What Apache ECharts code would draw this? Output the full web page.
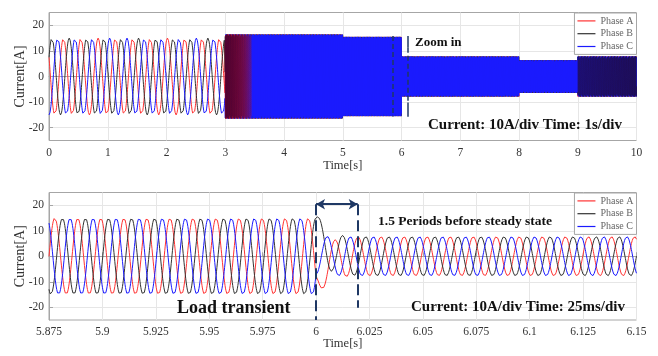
<!DOCTYPE html>
<html>
<head>
<meta charset="utf-8">
<script src="https://cdn.jsdelivr.net/npm/echarts@6/dist/echarts.min.js"></script>
<style>
  html, body { margin: 0; padding: 0; background: #fff; }
  #chart { width: 658px; height: 356px; }
</style>
</head>
<body>
<div id="chart"></div>
<script>
// three phases, B and C lag A by 120 / 240 degrees
let phaseNames = ['Phase A', 'Phase B', 'Phase C'];
let phaseColors = ['#ff3333', '#333333', '#1a1aff'];
let phaseLag = [0, 120, 240];

// top plot, 0 - 10 s
let slowEnd = 3;          // 0-3 s the trace is still readable (aliased view)
let slowAmp = 15;
let slowFreq = 3.389;     // visible cycles per second before 3 s
let slowPeakA = -0.0492;
let blockTimes = [3, 5, 6, 8, 9, 10];      // steps of the solid band
let blockAmps = [16.4, 15.5, 7.8, 6.4, 7.8];
let gridFreq = 92.7;      // Hz

// parts of the band where red / black still show through the blue
let hazeWindow = [3, 3.45];
let darkWindow = [9, 10];

// bottom plot, zoom around the load step
let zoomRange = [5.875, 6.15];
let preAmp = 15;
let prePeakA = 5.8777;
let stepTime = 6.0;
let postAmp = 7.7;
let postPeakA = 6.1491;
let decayTau = 0.004;

let yTicks = [-20, -10, 0, 10, 20];

function phaseVal(amp, f, t, t0, k) {
  return amp * Math.cos(2 * Math.PI * f * (t - t0) - phaseLag[k] * Math.PI / 180);
}

function topData(k) {
  let pts = [];
  for (let t = 0; t < slowEnd; t += 0.004) {
    pts.push([t, phaseVal(slowAmp, slowFreq, t, slowPeakA, k)]);
  }
  for (let i = 0; i < blockAmps.length; i++) {
    for (let t = blockTimes[i]; t < blockTimes[i + 1]; t += 0.001) {
      pts.push([t, phaseVal(blockAmps[i], gridFreq, t, 0, k)]);
    }
  }
  return pts;
}

function zoomData(k) {
  let pts = [];
  let jump = phaseVal(preAmp, gridFreq, stepTime, prePeakA, k) - phaseVal(postAmp, gridFreq, stepTime, postPeakA, k);
  for (let t = zoomRange[0]; t <= zoomRange[1] + 1e-9; t += 0.0002) {
    let v = t < stepTime
      ? phaseVal(preAmp, gridFreq, t, prePeakA, k)
      : phaseVal(postAmp, gridFreq, t, postPeakA, k) + jump * Math.exp(-(t - stepTime) / decayTau);
    pts.push([t, v]);
  }
  return pts;
}

let serif = 'Liberation Serif';
let navy = '#1f3864';

function xAxisOf(idx, min, max, interval) {
  return {
    gridIndex: idx, type: 'value', min: min, max: max, interval: interval,
    name: 'Time[s]', nameLocation: 'middle', nameGap: idx === 0 ? 19 : 17, nameMoveOverlap: false,
    nameTextStyle: { fontFamily: serif, fontSize: 12.5, color: '#333' },
    axisLine: { lineStyle: { color: '#a6a6a6' } },
    axisTick: { inside: true, length: 4, lineStyle: { color: '#a6a6a6' } },
    axisLabel: {
      fontFamily: serif, fontSize: 11.5, color: '#333', margin: 6,
      formatter: v => String(parseFloat(v.toFixed(3)))
    },
    splitLine: { lineStyle: { color: '#e6e6e6' } }
  };
}

function yAxisOf(idx) {
  return {
    gridIndex: idx, type: 'value', min: -25, max: 25,
    name: 'Current[A]', nameLocation: 'middle', nameGap: 22, nameRotate: 90, nameMoveOverlap: false,
    nameTextStyle: { fontFamily: serif, fontSize: 14, color: '#333' },
    axisLine: { show: true, lineStyle: { color: '#a6a6a6' } },
    axisTick: { show: true, inside: true, length: 4, customValues: yTicks, lineStyle: { color: '#a6a6a6' } },
    axisLabel: { fontFamily: serif, fontSize: 11.5, color: '#333', margin: 5, customValues: yTicks },
    splitLine: { show: true, lineStyle: { color: '#e6e6e6' } }
  };
}

function legendOf(top) {
  return {
    data: phaseNames, orient: 'vertical', right: 21.5, top: top,
    icon: 'rect', backgroundColor: '#fff', borderColor: '#a6a6a6', borderWidth: 1,
    padding: [2, 3, 2, 3], itemGap: 1, itemWidth: 18, itemHeight: 1.2,
    textStyle: { fontFamily: serif, fontSize: 10, color: '#666', lineHeight: 11.8 }
  };
}

// colour fading along x, used for the overlays on the band
function fade(rgb, a0, a1) {
  return {
    type: 'linear', x: 0, y: 0, x2: 1, y2: 0,
    colorStops: [{ offset: 0, color: 'rgba(' + rgb + ',' + a0 + ')' }, { offset: 1, color: 'rgba(' + rgb + ',' + a1 + ')' }]
  };
}

function inWindow(pts, w) {
  return pts.filter(p => p[0] >= w[0] && p[0] <= w[1]);
}

let series = [];
let topSets = phaseNames.map((name, k) => topData(k));
phaseNames.forEach((name, k) => {
  series.push({
    name: name, type: 'line', xAxisIndex: 0, yAxisIndex: 0,
    data: topSets[k], symbol: 'none', sampling: null,
    lineStyle: { width: 1, color: phaseColors[k] }, itemStyle: { color: phaseColors[k] }
  });
});
// red and black showing through just after 3 s, darker band after 9 s
series.push({
  name: 'Phase A', type: 'line', xAxisIndex: 0, yAxisIndex: 0, symbol: 'none', silent: true,
  data: inWindow(topSets[0], hazeWindow), lineStyle: { width: 1, color: fade('220,20,40', 0.9, 0) }
});
series.push({
  name: 'Phase B', type: 'line', xAxisIndex: 0, yAxisIndex: 0, symbol: 'none', silent: true,
  data: inWindow(topSets[1], hazeWindow), lineStyle: { width: 1, color: fade('70,0,50', 0.7, 0) }
});
series.push({
  name: 'Phase B', type: 'line', xAxisIndex: 0, yAxisIndex: 0, symbol: 'none', silent: true,
  data: inWindow(topSets[1], darkWindow), lineStyle: { width: 1, color: fade('30,10,60', 0.35, 0.5) }
});

phaseNames.forEach((name, k) => {
  series.push({
    name: name, type: 'line', xAxisIndex: 1, yAxisIndex: 1,
    data: zoomData(k), symbol: 'none',
    lineStyle: { width: 1, color: phaseColors[k] }, itemStyle: { color: phaseColors[k] }
  });
});
let zoomMarkerSeries = series[series.length - 1];

// zoom window markers on the top plot
series.push({
  type: 'line', xAxisIndex: 0, yAxisIndex: 0, data: [], symbol: 'none',
  markLine: {
    silent: true, symbol: 'none', label: { show: false },
    lineStyle: { color: navy, width: 1.5, type: 'solid' },
    data: [
      [{ coord: [5.845, 15.8], lineStyle: { type: [5, 3] } }, { coord: [5.845, -15.6] }],
      [{ coord: [6.1, 15.8] }, { coord: [6.1, 11.2] }],
      [{ coord: [6.1, 11.2], lineStyle: { type: [5, 3] } }, { coord: [6.1, -10.2] }],
      [{ coord: [6.1, -10.2] }, { coord: [6.1, -15.7] }]
    ]
  }
});

// load step and settling arrow on the bottom plot
zoomMarkerSeries.markLine = {
  silent: true, label: { show: false }, symbol: 'none',
  lineStyle: { color: navy, width: 2, type: [11, 5] },
  data: [
    [{ coord: [6.0, 20.4] }, { coord: [6.0, -25] }],
    [{ coord: [6.0195, 20.4] }, { coord: [6.0195, -20.2] }],
    [{ coord: [6.0, 20.4], symbol: 'arrow', symbolSize: [8, 9], lineStyle: { type: 'solid' } },
     { coord: [6.0195, 20.4], symbol: 'arrow', symbolSize: [8, 9] }]
  ]
};

function note(text, x, y, size) {
  return {
    type: 'text', x: x, y: y, z: 100,
    style: { text: text, fontFamily: serif, fontWeight: 'bold', fontSize: size, fill: '#111', verticalAlign: 'middle' }
  };
}

let chart = echarts.init(document.getElementById('chart'));
chart.setOption({
  animation: false,
  backgroundColor: '#fff',
  grid: [
    { left: 49, right: 21.5, top: 12.5, height: 128, outerBoundsMode: 'none', containLabel: false,
      show: true, borderColor: '#a6a6a6', borderWidth: 1 },
    { left: 49, right: 21.5, top: 192.5, height: 127.5, outerBoundsMode: 'none', containLabel: false,
      show: true, borderColor: '#a6a6a6', borderWidth: 1 }
  ],
  xAxis: [xAxisOf(0, 0, 10, 1), xAxisOf(1, zoomRange[0], zoomRange[1], 0.025)],
  yAxis: [yAxisOf(0), yAxisOf(1)],
  legend: [legendOf(13), legendOf(193)],
  series: series,
  graphic: [
    note('Zoom in', 415, 43, 13),
    note('Current: 10A/div Time: 1s/div', 428, 125, 15),
    note('1.5 Periods before steady state', 378, 222, 13.5),
    note('Load transient', 177, 308, 18),
    note('Current: 10A/div Time: 25ms/div', 411, 307, 15)
  ]
});
</script>
</body>
</html>
